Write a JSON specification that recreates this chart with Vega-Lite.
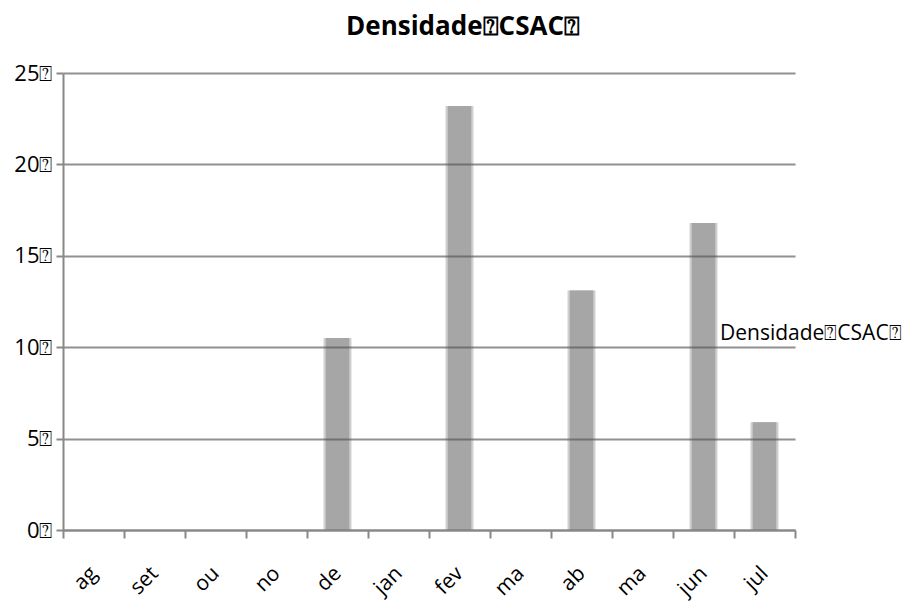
{
  "$schema": "https://vega.github.io/schema/vega-lite/v6.json",
  "autosize": {"type": "none"},
  "width": 732,
  "height": 457,
  "padding": {"left": 63, "top": 73, "right": 122, "bottom": 79},
  "background": "white",
  "view": {"stroke": null},
  "title": {
    "text": "Densidade⍰CSAC⍰",
    "font": "Open Sans",
    "fontSize": 26,
    "fontWeight": "bold",
    "color": "#000000",
    "anchor": "middle",
    "dx": 34,
    "offset": 22
  },
  "data": {
    "values": [
      {"mes": "ag", "valor": 0, "serie": "Densidade⍰CSAC⍰"},
      {"mes": "set", "valor": 0, "serie": "Densidade⍰CSAC⍰"},
      {"mes": "ou", "valor": 0, "serie": "Densidade⍰CSAC⍰"},
      {"mes": "no", "valor": 0, "serie": "Densidade⍰CSAC⍰"},
      {"mes": "de", "valor": 10.5, "serie": "Densidade⍰CSAC⍰"},
      {"mes": "jan", "valor": 0, "serie": "Densidade⍰CSAC⍰"},
      {"mes": "fev", "valor": 23.2, "serie": "Densidade⍰CSAC⍰"},
      {"mes": "mar", "valor": 0, "serie": "Densidade⍰CSAC⍰"},
      {"mes": "ab", "valor": 13.1, "serie": "Densidade⍰CSAC⍰"},
      {"mes": "mai", "valor": 0, "serie": "Densidade⍰CSAC⍰"},
      {"mes": "jun", "valor": 16.8, "serie": "Densidade⍰CSAC⍰"},
      {"mes": "jul", "valor": 5.9, "serie": "Densidade⍰CSAC⍰"}
    ]
  },
  "encoding": {
    "x": {
      "field": "mes",
      "type": "nominal",
      "sort": null,
      "scale": {"paddingInner": 0, "paddingOuter": 0},
      "axis": {
        "title": null,
        "tickBand": "extent",
        "labelExpr": "datum.value == 'mar' || datum.value == 'mai' ? 'ma' : datum.value",
        "labelAngle": -45,
        "labelAlign": "right",
        "labelBaseline": "middle",
        "labelFont": "Open Sans",
        "labelFontSize": 21,
        "labelColor": "#000000",
        "labelPadding": 32,
        "labelDx": 5,
        "labelDy": 5,
        "domainColor": "#888888",
        "domainWidth": 2,
        "tickColor": "#888888",
        "tickWidth": 2,
        "tickSize": 8,
        "grid": false,
        "zindex": 1
      }
    },
    "y": {
      "field": "valor",
      "type": "quantitative",
      "scale": {"domain": [0, 25], "nice": false},
      "axis": {
        "title": null,
        "values": [0, 5, 10, 15, 20, 25],
        "labelExpr": "datum.value + '⍰'",
        "labelFont": "Open Sans",
        "labelFontSize": 22,
        "labelColor": "#000000",
        "labelPadding": 4,
        "domainColor": "#888888",
        "domainWidth": 2,
        "tickColor": "#888888",
        "tickWidth": 2,
        "tickSize": 7,
        "grid": true,
        "gridColor": "#555555",
        "gridOpacity": 0.65,
        "gridWidth": 2,
        "zindex": 1
      }
    },
    "color": {
      "field": "serie",
      "type": "nominal",
      "scale": {"range": ["#a6a6a6"]},
      "legend": {
        "title": null,
        "orient": "none",
        "legendX": 636,
        "legendY": 250,
        "padding": 0,
        "symbolSize": 0,
        "symbolStrokeWidth": 0,
        "symbolOpacity": 0,
        "labelOffset": 0,
        "labelFont": "Open Sans",
        "labelFontSize": 21,
        "labelColor": "#000000",
        "labelLimit": 400
      }
    }
  },
  "layer": [
    {"mark": {"type": "bar", "width": {"band": 0.47}, "opacity": 0.3}},
    {"mark": {"type": "bar", "width": {"band": 0.43}, "opacity": 0.5}},
    {"mark": {"type": "bar", "width": {"band": 0.38}, "opacity": 1}}
  ]
}
